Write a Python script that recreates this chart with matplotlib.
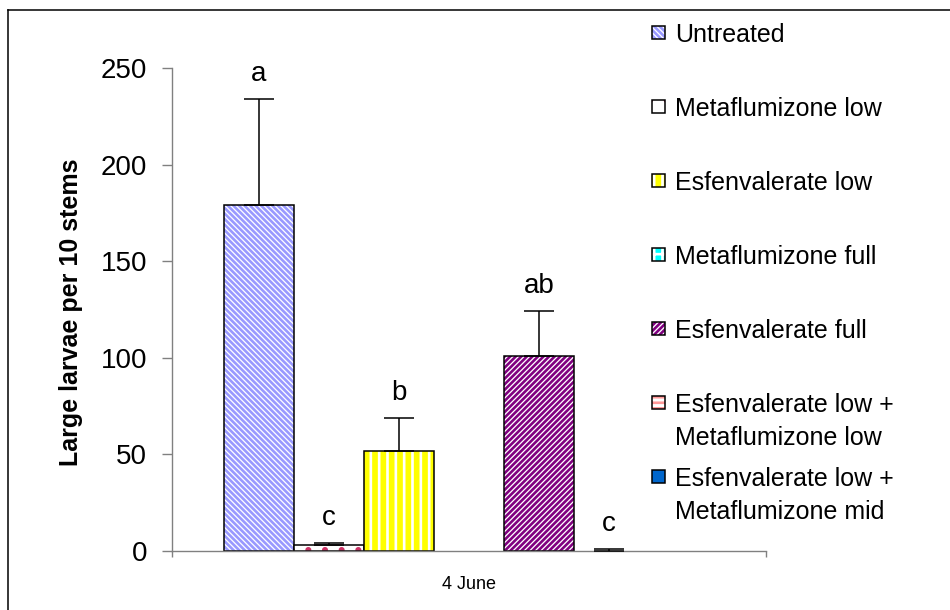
import numpy as np
import matplotlib
matplotlib.use('Agg')
import matplotlib.pyplot as plt
from matplotlib.patches import Rectangle
from matplotlib.lines import Line2D

plt.rcParams['font.family'] = ['Liberation Sans', 'DejaVu Sans']
plt.rcParams['hatch.linewidth'] = 1.9

treatments = ['Untreated', 'Metaflumizone low', 'Esfenvalerate low',
              'Metaflumizone full', 'Esfenvalerate full',
              'Esfenvalerate low +\nMetaflumizone low',
              'Esfenvalerate low +\nMetaflumizone mid']
larvae = [179, 3, 52, 0, 101, 0, 0]
larvae_se = [55, 1, 17, 0, 23, 1, 0]
letters = ['a', 'c', 'b', '', 'ab', 'c', '']
date_label = '4 June'
yticks = [0, 50, 100, 150, 200, 250]

# (fill, hatch colour, hatch) per treatment
styles = [('white', '#9999ff', '\\' * 6),
          ('white', '#cc3366', '.'),
          ('#ffff00', 'white', '||'),
          ('#00ffff', 'white', '++'),
          ('white', '#800080', '/' * 6),
          ('white', '#ff9999', '---'),
          ('#0066cc', '#0066cc', '')]

W, H = 950, 610
fig = plt.figure(figsize=(9.5, 6.1), dpi=100)
ax = fig.add_axes([172/W, 1-551/H, (766-172)/W, (551-68)/H])

x = np.arange(len(larvae))
for i in x:
    fc, hc, h = styles[i]
    ax.bar(i, larvae[i], width=1, color=fc, edgecolor=hc, hatch=h, linewidth=0)
    if larvae[i] > 0:
        ax.bar(i, larvae[i], width=1, fill=False, edgecolor='black', linewidth=1.1)

err_idx = [i for i in x if larvae_se[i] > 0]
ax.errorbar(x[err_idx], np.array(larvae)[err_idx],
            yerr=[np.zeros(len(err_idx)), np.array(larvae_se)[err_idx]],
            fmt='none', ecolor='black', elinewidth=1.1, capsize=11, capthick=1.1, zorder=5)

for i in x:
    if letters[i]:
        ax.annotate(letters[i], (i, larvae[i] + larvae_se[i]), xytext=(0, 13),
                    textcoords='offset points', ha='center', va='baseline', fontsize=20)

pad = 0.743
ax.set_xlim(-0.5 - pad, len(larvae) - 0.5 + pad)
ax.set_ylim(0, 250)
ax.set_yticks(yticks)
ax.set_xticks([3])
ax.set_xticklabels([date_label])
ax.set_xticks(list(ax.get_xlim()), minor=True)
ax.tick_params(axis='x', which='major', length=0, pad=18, labelsize=13)
ax.tick_params(axis='x', which='minor', length=4.5, width=1, color='#808080')
ax.tick_params(axis='y', length=7, width=1, color='#808080', pad=11, labelsize=20)
for s in ['top', 'right']:
    ax.spines[s].set_visible(False)
for s in ['left', 'bottom']:
    ax.spines[s].set_color('#808080')
    ax.spines[s].set_linewidth(1)

fig.text(71/W, 1-312/H, 'Large larvae per 10 stems', rotation=90, fontsize=18,
         fontweight='bold', ha='center', va='center')

# legend drawn by hand so the boxes sit on the first text line
for i, lab in enumerate(treatments):
    yc = 32 + 74*i
    fc, hc, h = styles[i]
    fig.add_artist(Rectangle((652/W, 1-(yc+6.5)/H), 13/W, 13/H, transform=fig.transFigure,
                             facecolor=fc, edgecolor=hc, hatch=h, linewidth=0))
    fig.add_artist(Rectangle((652/W, 1-(yc+6.5)/H), 13/W, 13/H, transform=fig.transFigure,
                             fill=False, edgecolor='black', linewidth=1.1))
    fig.text(675/W, 1-(yc-9)/H, lab, fontsize=18, va='top', linespacing=1.45)

# outer frame (cut off at right and bottom)
fig.add_artist(Line2D([8/W, 1], [1-10/H, 1-10/H], transform=fig.transFigure, color='black', lw=1.1))
fig.add_artist(Line2D([8/W, 8/W], [0, 1-10/H], transform=fig.transFigure, color='black', lw=1.1))

fig.savefig('out.png', dpi=100)
